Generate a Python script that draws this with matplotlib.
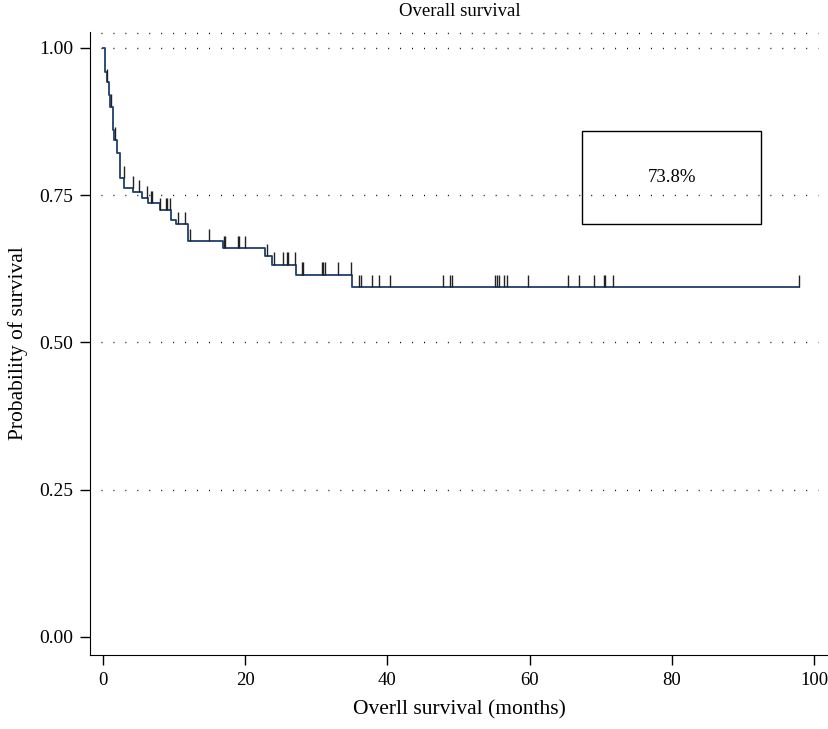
import numpy as np
import matplotlib.pyplot as plt
from matplotlib.patches import Rectangle

# Kaplan-Meier steps
event_t = [0, 0.28, 0.6, 0.84, 1.0, 1.37, 1.54, 1.92, 2.34, 2.94, 4.2, 5.42, 6.34,
           8.08, 9.62, 10.22, 11.95, 16.85, 22.83, 23.8, 27.13, 35.06]
surv = [1.0, 0.959, 0.943, 0.920, 0.900, 0.861, 0.844, 0.821, 0.779, 0.762, 0.755,
        0.745, 0.736, 0.724, 0.708, 0.701, 0.672, 0.660, 0.646, 0.632, 0.615, 0.594]
end_t = 97.9

# censored observations
censor_t = [0.6, 1.16, 1.68, 2.9, 4.16, 5.08, 6.12, 6.75, 6.9, 8.08, 8.82, 9.0, 9.38,
            10.6, 11.58, 12.18, 14.89, 17.04, 17.18, 19.0, 19.15, 19.99, 23.0, 23.99,
            25.25, 25.87, 26.05, 26.93, 27.97, 28.19, 30.77, 30.95, 31.19, 33.0, 34.94,
            36.0, 36.32, 37.89, 38.87, 40.34, 47.8, 48.84, 49.06, 55.14, 55.36, 55.7,
            56.44, 56.76, 59.7, 65.4, 66.9, 69.0, 70.4, 70.6, 71.7, 97.86]

box_text = '73.8%'
yticks = [0, 0.25, 0.5, 0.75, 1.0]
xticks = [0, 20, 40, 60, 80, 100]

plt.rcParams['font.family'] = ['Liberation Serif', 'DejaVu Serif']
plt.rcParams['font.size'] = 14

fig = plt.figure(figsize=(8.29, 7.29), dpi=100)
ax = fig.add_axes([0.1086, 0.1015, 0.8914, 0.8545])

ylo, yhi = -0.031, 1.027
ax.set_xlim(-1.83, 102.1)
ax.set_ylim(ylo, yhi)

# dotted grid
for g in yticks[1:] + [yhi - 0.001]:
    ax.plot([-0.3, 100.5], [g, g], color='black', lw=1.0,
            linestyle=(0, (0.7, 7.9)), zorder=1)

# survival curve
xs = list(event_t) + [end_t]
ys = list(surv) + [surv[-1]]
ax.step(xs, ys, where='post', color='#1f3f6e', lw=1.3, zorder=3)

# censor marks
idx = np.searchsorted(event_t, censor_t, side='right') - 1
s_at = np.array(surv)[idx]
ax.vlines(censor_t, s_at, s_at + 0.021, color='#222222', lw=1.0, zorder=4)

# annotation box
ax.add_patch(Rectangle((67.4, 0.701), 25.2, 0.158, fill=False, edgecolor='black', lw=1.0))
ax.text(80.0, 0.78, box_text, ha='center', va='center', fontsize=13.5)

ax.set_xticks(xticks)
ax.set_yticks(yticks)
ax.set_yticklabels([f'{v:.2f}' for v in yticks])
ax.tick_params(direction='out', length=7, width=1, pad=5, labelsize=14)
ax.tick_params(axis='x', labelsize=13.5)
ax.spines['top'].set_visible(False)
ax.spines['right'].set_visible(False)

fig.text(0.555, 1 - 12 / 729, 'Overall survival', ha='center', va='center', fontsize=13.5)
ax.set_xlabel('Overll survival (months)', fontsize=15.5, labelpad=8)
ax.set_ylabel('Probability of survival', fontsize=15.5, labelpad=8)

plt.savefig('out.png')
